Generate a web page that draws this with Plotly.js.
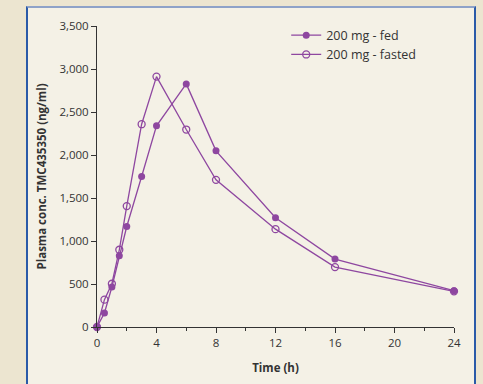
<!DOCTYPE html>
<html>
<head>
<meta charset="utf-8">
<script src="https://cdn.plot.ly/plotly-3.0.1.min.js"></script>
<style>
html,body{margin:0;padding:0;background:#ece5d0;width:483px;height:384px;overflow:hidden;}
#panel{position:absolute;left:26px;top:6px;width:446px;height:390px;background:#f4f1e6;border-left:2px solid #2a5aa8;border-right:2px solid #2a5aa8;border-top:2px solid #8ea2c8;}
#chart{position:absolute;left:0;top:0;width:483px;height:384px;}
</style>
</head>
<body>
<div id="panel"></div>
<div id="chart"></div>
<script>
const timeH = [0, 0.5, 1, 1.5, 2, 3, 4, 6, 8, 12, 16, 24];
const fed = [0, 163, 465, 829, 1169, 1750, 2339, 2827, 2048, 1270, 790, 422];
const fasted = [0, 318, 503, 898, 1406, 2358, 2912, 2296, 1711, 1138, 697, 415];
const seriesNames = ['200 mg - fed', '200 mg - fasted'];
const xTicks = [0, 4, 8, 12, 16, 20, 24];
const yTicks = [0, 500, 1000, 1500, 2000, 2500, 3000, 3500];
const yTickLabels = ['0', '500', '1,000', '1,500', '2,000', '2,500', '3,000', '3,500'];

const purple = '#8e47a0';
const fnt = {family: 'Open Sans, Noto Sans, sans-serif', size: 11.5, color: '#333'};
const titleFnt = {family: 'Open Sans, Noto Sans, sans-serif', size: 11.5, color: '#333'};
const legFnt = {family: 'Open Sans, Noto Sans, sans-serif', size: 12.5, color: '#333'};

const traces = [
  {x: timeH, y: fed, name: seriesNames[0], mode: 'lines+markers', cliponaxis: false,
   line: {color: purple, width: 1.3},
   marker: {color: purple, size: 7, symbol: 'circle'}},
  {x: timeH, y: fasted, name: seriesNames[1], mode: 'lines+markers', cliponaxis: false,
   line: {color: purple, width: 1.3},
   marker: {color: purple, size: 7, symbol: 'circle-open', line: {width: 1.3, color: purple}}}
];

const layout = {
  width: 483, height: 384,
  paper_bgcolor: 'rgba(0,0,0,0)', plot_bgcolor: 'rgba(0,0,0,0)',
  margin: {l: 96.5, r: 29, t: 26, b: 56.5},
  showlegend: true,
  legend: {x: 0.53, y: 1.018, xanchor: 'left', yanchor: 'top', bgcolor: 'rgba(0,0,0,0)',
           font: legFnt, tracegroupgap: 0, itemwidth: 30},
  xaxis: {range: [0, 24], tickvals: xTicks, ticktext: xTicks.map(String),
          showgrid: false, zeroline: false, showline: true, linecolor: '#333', linewidth: 1,
          ticks: 'outside', ticklen: 5, tickcolor: '#333', tickfont: fnt,
          minor: {dtick: 2, ticks: 'outside', ticklen: 3, tickcolor: '#333', showgrid: false},
          title: {text: '<b>Time (h)</b>', font: titleFnt, standoff: 15}},
  yaxis: {range: [0, 3500], tickvals: yTicks, ticktext: yTickLabels,
          showgrid: false, zeroline: false, showline: true, linecolor: '#333', linewidth: 1,
          ticks: 'outside', ticklen: 5, tickcolor: '#333', tickfont: fnt,
          title: {text: '<b>Plasma conc. TMC435350 (ng/ml)</b>', font: titleFnt, standoff: 10}}
};

Plotly.newPlot('chart', traces, layout, {displayModeBar: false, staticPlot: true});
</script>
</body>
</html>
